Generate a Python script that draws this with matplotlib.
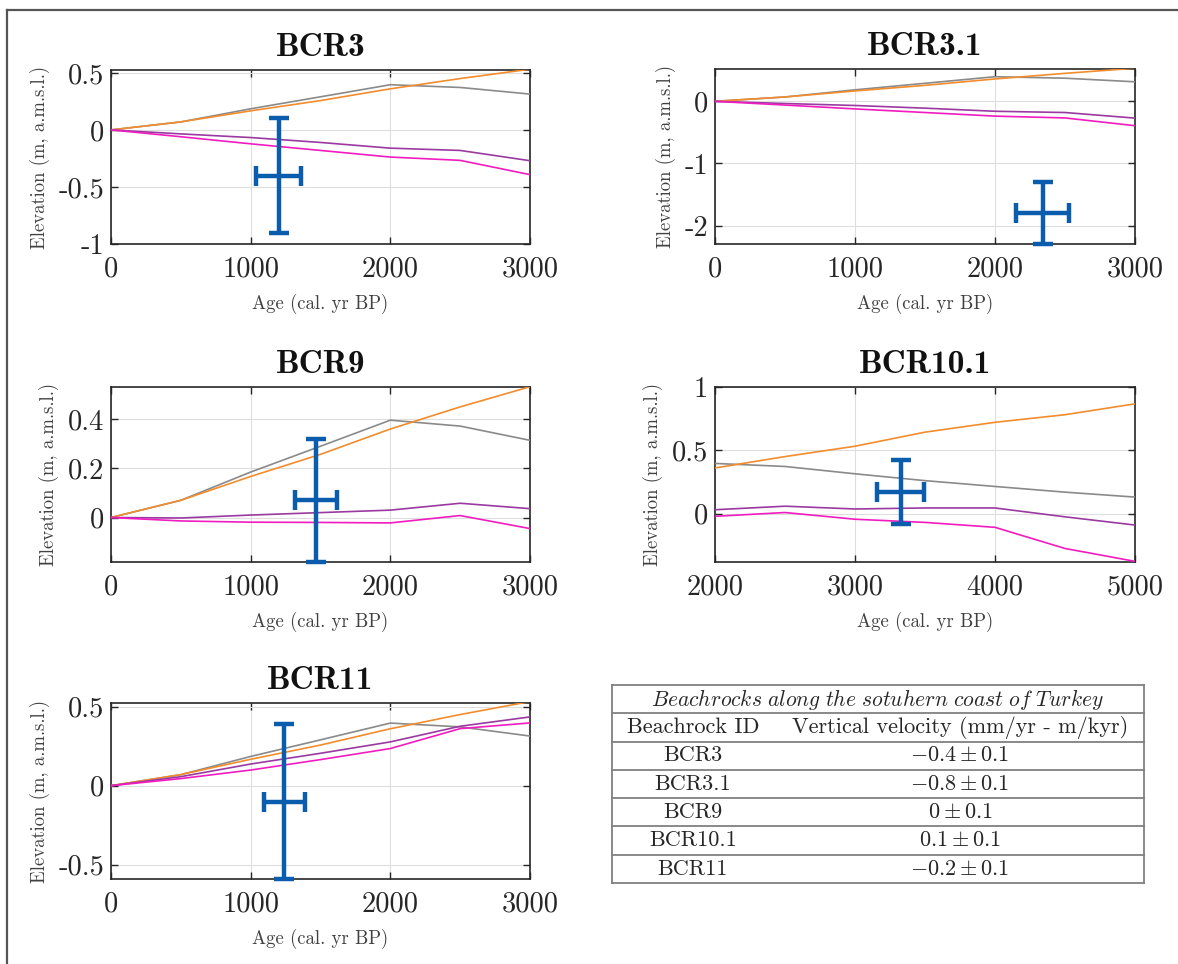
import matplotlib
matplotlib.use('Agg')
import matplotlib.pyplot as plt
from matplotlib.lines import Line2D
import numpy as np

plt.rcParams['font.family'] = 'cmr10'
plt.rcParams['mathtext.fontset'] = 'cm'
plt.rcParams['axes.unicode_minus'] = False
plt.rcParams['axes.formatter.use_mathtext'] = True

# ---------------- data ----------------
ages = [0, 500, 1000, 1500, 2000, 2500, 3000, 3500, 4000, 4500, 5000]
model_gray = [0, 0.07, 0.185, 0.29, 0.396, 0.372, 0.314, 0.26, 0.214, 0.169, 0.13]
model_orange = [0, 0.07, 0.167, 0.257, 0.36, 0.45, 0.532, 0.643, 0.721, 0.781, 0.867]

site_names = ['BCR3', 'BCR3.1', 'BCR9', 'BCR10.1', 'BCR11']

purple_bcr3 = [0, -0.035, -0.067, -0.11, -0.16, -0.18, -0.27]
pink_bcr3 = [0, -0.06, -0.122, -0.18, -0.238, -0.267, -0.392]
purple_bcr9 = [0, -0.002, 0.01, 0.02, 0.03, 0.058, 0.036, 0.044, 0.044, -0.026, -0.091]
pink_bcr9 = [0, -0.014, -0.019, -0.02, -0.022, 0.008, -0.045, -0.07, -0.109, -0.276, -0.378]
purple_bcr11 = [0, 0.057, 0.137, 0.205, 0.277, 0.376, 0.435]
pink_bcr11 = [0, 0.045, 0.099, 0.165, 0.235, 0.361, 0.397]

# sample age/elevation with uncertainties
sample_age = [1200, 2340, 1467, 3325, 1242]
sample_age_err = [160, 190, 150, 170, 147]
sample_elev = [-0.4, -1.8, 0.07, 0.17, -0.1]
sample_elev_err = [0.5, 0.5, 0.25, 0.25, 0.49]

xlims = [(0, 3000), (0, 3000), (0, 3000), (2000, 5000), (0, 3000)]
ylims = [(-1, 0.525), (-2.295, 0.52), (-0.181, 0.531), (-0.383, 1.0), (-0.59, 0.523)]
xticks = [[0, 1000, 2000, 3000]] * 3 + [[2000, 3000, 4000, 5000]] + [[0, 1000, 2000, 3000]]
yticks = [[-1, -0.5, 0, 0.5], [-2, -1, 0], [0, 0.2, 0.4], [0, 0.5, 1], [-0.5, 0, 0.5]]
yticklabels = [['-1', '-0.5', '0', '0.5'], ['-2', '-1', '0'], ['0', '0.2', '0.4'],
               ['0', '0.5', '1'], ['-0.5', '0', '0.5']]

table_title = 'Beachrocks along the sotuhern coast of Turkey'
table_header = ['Beachrock ID', 'Vertical velocity (mm/yr - m/kyr)']
table_ids = ['BCR3', 'BCR3.1', 'BCR9', 'BCR10.1', 'BCR11']
table_vel = [r'$-0.4\pm0.1$', r'$-0.8\pm0.1$', r'$0\pm0.1$', r'$0.1\pm0.1$', r'$-0.2\pm0.1$']

# ---------------- style ----------------
GRAY = '#8a8a8a'
ORANGE = '#f28c2c'
PURPLE = '#9a3aa0'
PINK = '#f01cc0'
BLUE = '#0a5cad'
DARK = '#262626'

W, H = 1178, 964
fig = plt.figure(figsize=(W / 100, H / 100), dpi=100)
fig.patch.set_facecolor('white')


def add_ax(l, t, r, b):
    return fig.add_axes([l / W, 1 - b / H, (r - l) / W, (b - t) / H])


boxes = [(111, 70, 530, 244), (715, 69, 1135, 244), (111, 387, 530, 562),
         (715, 387, 1135, 562), (111, 703, 530, 879)]

site_curves = [(purple_bcr3, pink_bcr3), (purple_bcr3, pink_bcr3),
               (purple_bcr9, pink_bcr9), (purple_bcr9, pink_bcr9),
               (purple_bcr11, pink_bcr11)]

for i, box in enumerate(boxes):
    ax = add_ax(*box)
    pur, pin = site_curves[i]
    ax.plot(ages, model_gray, color=GRAY, lw=1.2, zorder=3)
    ax.plot(ages, model_orange, color=ORANGE, lw=1.2, zorder=3)
    ax.plot(ages[:len(pur)], pur, color=PURPLE, lw=1.2, zorder=3)
    ax.plot(ages[:len(pin)], pin, color=PINK, lw=1.2, zorder=3)
    ax.errorbar(sample_age[i], sample_elev[i], xerr=sample_age_err[i],
                yerr=sample_elev_err[i], color=BLUE, elinewidth=3.2,
                capsize=7.5, capthick=3.2, zorder=5, clip_on=False)
    ax.set_xlim(*xlims[i])
    ax.set_ylim(*ylims[i])
    ax.set_xticks(xticks[i])
    ax.set_xticklabels([str(v) for v in xticks[i]])
    ax.set_yticks(yticks[i])
    ax.set_yticklabels(yticklabels[i])
    ax.tick_params(direction='in', length=5, width=1, top=True, right=True,
                   labelsize=20.5, colors=DARK)
    ax.tick_params(axis='x', pad=9)
    ax.tick_params(axis='y', pad=5)
    ax.grid(True, color='#dedede', lw=0.8)
    ax.set_axisbelow(True)
    for sp in ax.spines.values():
        sp.set_color(DARK)
        sp.set_linewidth(1.2)
    ax.set_title(site_names[i], fontfamily='cmb10', fontsize=24, pad=10, color='#111111')
    ax.set_xlabel('Age (cal. yr BP)', fontsize=13.5, color='#404040', labelpad=8)
    ax.set_ylabel('Elevation (m, a.m.s.l.)', fontsize=13.5, color='#404040', labelpad=6)

# ---------------- table ----------------
tax = add_ax(612, 685, 1144, 883)
nrows = 2 + len(table_ids)
tax.set_xlim(0, 1)
tax.set_ylim(nrows, 0)
tax.axis('off')
LC = '#808080'
for k in range(nrows + 1):
    tax.plot([0, 1], [k, k], color=LC, lw=1.3, clip_on=False)
tax.plot([0, 0], [0, nrows], color=LC, lw=1.3, clip_on=False)
tax.plot([1, 1], [0, nrows], color=LC, lw=1.3, clip_on=False)

title_math = r'$\mathit{' + table_title.replace(' ', r'\ ') + '}$'
tax.text(0.5, 0.5, title_math, ha='center', va='center', fontsize=15.5, color=DARK)
c1, c2 = 0.152, 0.654
tax.text(c1, 1.5, table_header[0], ha='center', va='center', fontsize=16, color=DARK)
tax.text(c2, 1.5, table_header[1], ha='center', va='center', fontsize=16, color=DARK)
for j, (sid, vel) in enumerate(zip(table_ids, table_vel)):
    tax.text(c1, 2.5 + j, sid, ha='center', va='center', fontsize=16, color=DARK)
    tax.text(c2, 2.5 + j, vel, ha='center', va='center', fontsize=16, color=DARK)

# ---------------- outer frame ----------------
fig.add_artist(Line2D([7 / W, 1], [1 - 10 / H, 1 - 10 / H], color='#555555', lw=1.6))
fig.add_artist(Line2D([7 / W, 7 / W], [0, 1 - 10 / H], color='#555555', lw=1.6))

fig.savefig('out.png', dpi=100, facecolor='white')
